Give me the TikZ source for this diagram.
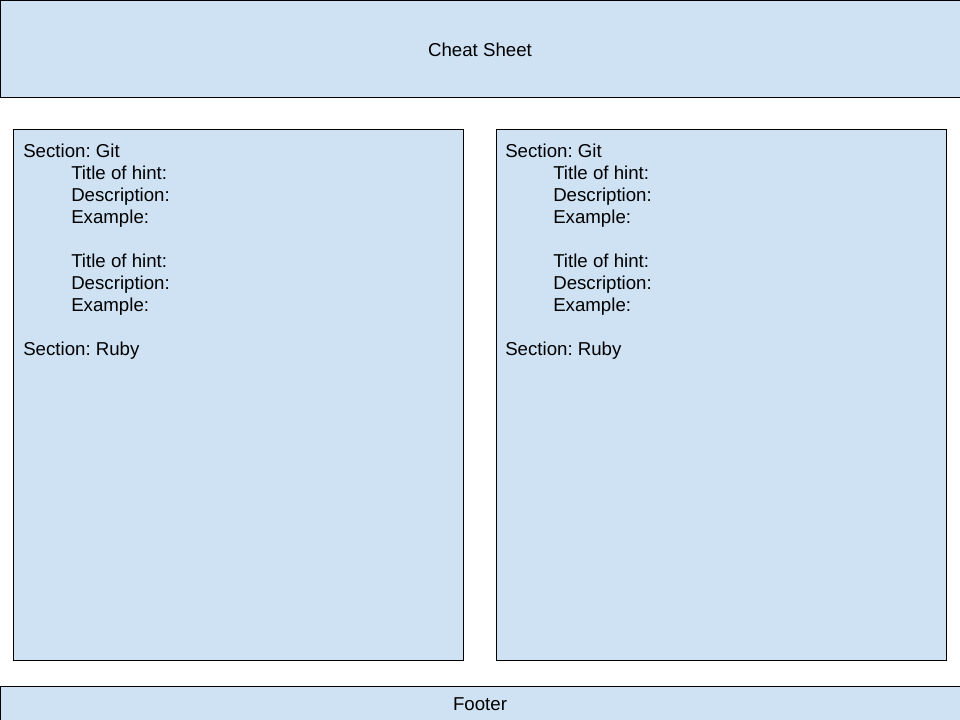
\documentclass[tikz,border=0pt]{standalone}
\usepackage{fontspec}
\setmainfont{Liberation Sans}
\frenchspacing
\definecolor{boxblue}{HTML}{CFE2F3}
\begin{document}
\begin{tikzpicture}[x=0.75pt,y=-0.75pt,
  panel/.style={draw=black,fill=boxblue,line width=0.75pt},
  txt/.style={font=\fontsize{14pt}{16.5pt}\selectfont,inner sep=0pt},
  body/.style={txt,align=left,anchor=north west}]
\useasboundingbox (0,0) rectangle (960,720);
\begin{scope}
\clip (0,0) rectangle (960,720);
\draw[panel] (0.5,0.5) rectangle (965,98);
\draw[panel] (0.5,686) rectangle (965,725);
\end{scope}
\node[txt] (title) at (480,50) {Cheat Sheet};
\node[txt] (footer) at (480,704) {Footer};
\node[panel,minimum width=450*0.75pt,minimum height=530*0.75pt,anchor=north west,inner sep=0pt] (left) at (13,129.5) {};
\node[panel,minimum width=450*0.75pt,minimum height=530*0.75pt,anchor=north west,inner sep=0pt] (right) at (496,129.5) {};
\newcommand{\panelbody}{Section: Git\\
\hspace*{36pt}Title of hint:\\
\hspace*{36pt}Description:\\
\hspace*{36pt}Example:\\
\mbox{}\\
\hspace*{36pt}Title of hint:\\
\hspace*{36pt}Description:\\
\hspace*{36pt}Example:\\
\mbox{}\\
Section: Ruby}
\node[body] (lefttext) at (23,144) {\panelbody};
\node[body] (righttext) at (505,144) {\panelbody};
\end{tikzpicture}
\end{document}
